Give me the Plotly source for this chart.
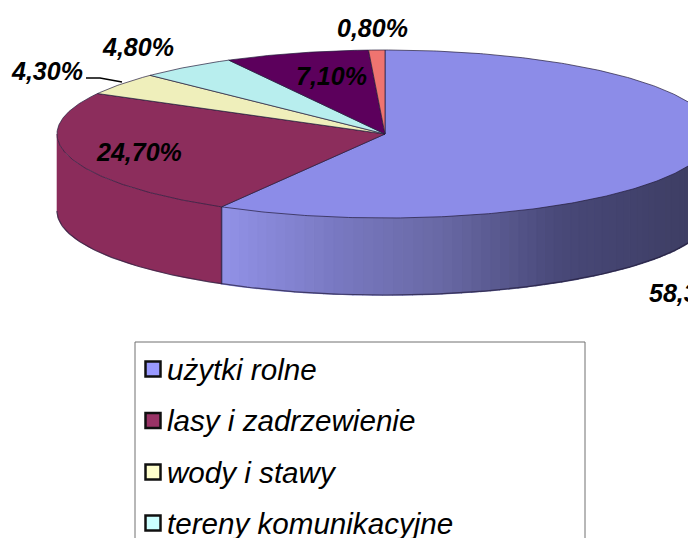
import numpy as np
import plotly.graph_objects as go

# ---- data ----
categories = ["użytki rolne", "lasy i zadrzewienie", "wody i stawy",
              "tereny komunikacyjne", "inne tereny", "pozostałe"]
values = [58.3, 24.7, 4.3, 4.8, 7.1, 0.8]
top_colors = ["#8c8ce8", "#8c2d5c", "#efefbb", "#b8eeee", "#5c005c", "#ef7470"]
legend_colors = ["#9999ff", "#993366", "#ffffcc", "#ccffff"]
legend_labels = categories[:4]

W, H = 688, 538
CX, CY, RX, RY, DEPTH = 385, 134, 328, 84, 77


def ux(px):
    return (np.asarray(px, float) - CX) / RX


def uy(py):
    return (CY - np.asarray(py, float)) / RY


DZ = DEPTH / RY
cum = np.concatenate([[0], np.cumsum(values)]) / sum(values) * 2 * np.pi


def arc(a0, a1, n=80):
    t = np.linspace(a0, a1, n)
    return np.sin(t), np.cos(t)


EDGE = "rgba(35,28,60,0.7)"
fig = go.Figure()


def poly(x, y, fill, line=None, width=1):
    fig.add_trace(go.Scatter(
        x=np.asarray(x).tolist(), y=np.asarray(y).tolist(), mode="lines", fill="toself",
        fillcolor=fill, line=dict(color=line or fill, width=width),
        hoverinfo="skip", showlegend=False))


# side wall: shaded first slice, flat second slice (front half of the disc only)
grad_x = [220, 340, 440, 560, 688]
grad_r = [146, 120, 105, 72, 62]
grad_b = [232, 192, 165, 120, 100]
edges = np.linspace(np.pi / 2, cum[1], 70)
for a0, a1 in zip(edges[:-1], edges[1:]):
    xa, ya = arc(a0, a1, 5)
    px = CX + RX * np.sin((a0 + a1) / 2)
    r = np.interp(px, grad_x, grad_r)
    b = np.interp(px, grad_x, grad_b)
    c = f"rgb({r:.0f},{r:.0f},{b:.0f})"
    poly(np.r_[xa, xa[::-1]], np.r_[ya, ya[::-1] - DZ], c, width=1.6)
xa, ya = arc(cum[1], 1.5 * np.pi)
poly(np.r_[xa, xa[::-1]], np.r_[ya, ya[::-1] - DZ], "#8b2c5b", width=0.6)

# rim lines of the wall
xa, ya = arc(np.pi / 2, 1.5 * np.pi, 200)
fig.add_trace(go.Scatter(x=xa.tolist(), y=(ya - DZ).tolist(), mode="lines",
                         line=dict(color=EDGE, width=1.2), hoverinfo="skip", showlegend=False))
sx, sy = np.sin(cum[1]), np.cos(cum[1])
fig.add_trace(go.Scatter(x=[sx, sx], y=[sy, sy - DZ], mode="lines",
                         line=dict(color=EDGE, width=1.5), hoverinfo="skip", showlegend=False))

# top faces
for i, col in enumerate(top_colors):
    xa, ya = arc(cum[i], cum[i + 1], max(6, int(values[i] * 6)))
    poly(np.r_[0, xa, 0], np.r_[0, ya, 0], col, EDGE, 1)

# legend box, swatches and texts
box = dict(type="rect", x0=ux(135), x1=ux(585), y0=uy(342), y1=uy(H + 40),
           line=dict(color="#707070", width=1), fillcolor="rgba(0,0,0,0)")
leg_y = [369, 420.5, 472, 523]
fig.add_trace(go.Scatter(
    x=ux([153] * 4).tolist(), y=uy(leg_y).tolist(), mode="markers",
    marker=dict(symbol="square", size=15, color=legend_colors,
                line=dict(color="#101010", width=2.5)),
    hoverinfo="skip", showlegend=False))

shapes = [box]
annotations = []
for name, py in zip(legend_labels, leg_y):
    annotations.append(dict(x=ux(168), y=uy(py), text=f"<i>{name}</i>", showarrow=False,
                            xanchor="left", yanchor="middle", xshift=-3,
                            font=dict(family="Liberation Sans", size=29.6, color="#000")))

# data labels: (left px, centre py)
label_pos = [(650, 293), (97, 152), (12, 71), (103, 47), (297, 76), (338, 28)]
for v, (lx, ly) in zip(values, label_pos):
    annotations.append(dict(x=ux(lx), y=uy(ly), text=f"<b><i>{v:.2f}%</i></b>".replace(".", ","),
                            showarrow=False, xanchor="left", yanchor="middle", xshift=-3,
                            font=dict(family="Liberation Sans", size=25, color="#000")))

# leader line for the 4,30% label
fig.add_trace(go.Scatter(x=ux([86, 100, 122]).tolist(), y=uy([78, 78, 82]).tolist(), mode="lines",
                         line=dict(color="#000", width=1.5), hoverinfo="skip", showlegend=False))

fig.update_layout(
    width=W, height=H, autosize=False, margin=dict(l=0, r=0, t=0, b=0),
    paper_bgcolor="white", plot_bgcolor="white", showlegend=False,
    xaxis=dict(range=[float(ux(0)), float(ux(W))], visible=False, fixedrange=True),
    yaxis=dict(range=[float(uy(H)), float(uy(0))], visible=False, fixedrange=True),
    shapes=shapes, annotations=annotations,
)
fig.write_html("out.html", config=dict(displayModeBar=False),
               post_script="document.body.style.margin='0';document.body.style.overflow='hidden';")
